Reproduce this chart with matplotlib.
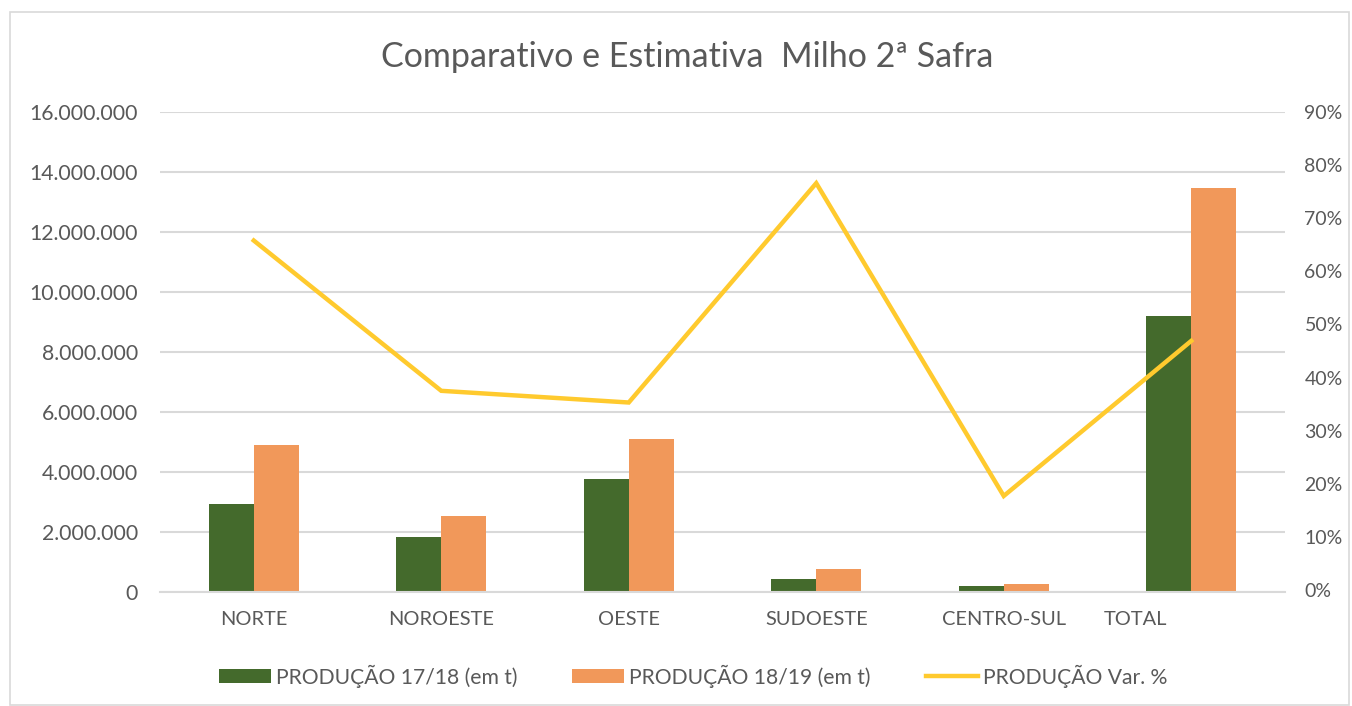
import matplotlib.pyplot as plt
import matplotlib.transforms as mtransforms
from matplotlib.patches import Rectangle
from matplotlib.ticker import FuncFormatter, MultipleLocator
import numpy as np

# ------------------------------------------------------------
# DADOS
# ------------------------------------------------------------
regioes = ["NORTE", "NOROESTE", "OESTE", "SUDOESTE", "CENTRO-SUL", "TOTAL"]
prod_1718 = [2950000, 1840000, 3770000, 450000, 210000, 9200000]
prod_1819 = [4900000, 2530000, 5100000, 770000, 260000, 13470000]
var_pct = [0.658, 0.375, 0.353, 0.766, 0.177, 0.469]

VERDE = "#446a2c"
LARANJA = "#f1985a"
AMARELO = "#ffca2e"
CINZA_TXT = "#595959"
CINZA_GRID = "#d9d9d9"

plt.rcParams["font.family"] = ["Lato", "DejaVu Sans"]

fig = plt.figure(figsize=(13.52, 7.06), dpi=100)
ax = fig.add_axes([160 / 1352, 1 - 592 / 706, 1125 / 1352, 480 / 706])

x = np.arange(len(regioes))
w = 0.24
ax.bar(x - w / 2, prod_1718, w, color=VERDE, label="PRODUÇÃO 17/18 (em t)", zorder=2)
ax.bar(x + w / 2, prod_1819, w, color=LARANJA, label="PRODUÇÃO 18/19 (em t)", zorder=2)

ax.set_xlim(-0.5, len(regioes) - 0.5)
ax.set_ylim(0, 16000000)
ax.yaxis.set_major_locator(MultipleLocator(2000000))
ax.yaxis.set_major_formatter(FuncFormatter(lambda v, p: f"{int(v):,}".replace(",", ".")))
ax.grid(axis="y", color=CINZA_GRID, lw=1.5, zorder=0)
ax.set_axisbelow(True)
for s in ["top", "right", "left"]:
    ax.spines[s].set_visible(False)
ax.spines["bottom"].set_color(CINZA_GRID)
ax.spines["bottom"].set_linewidth(1.5)
ax.tick_params(length=0, labelcolor=CINZA_TXT)
ax.tick_params(axis="y", pad=16, labelsize=15.3)
ax.tick_params(axis="x", pad=14, labelsize=14.4)
ax.set_xticks(x)
ax.set_xticklabels(regioes)

# rótulo TOTAL deslocado para a esquerda, como no original
lbl = ax.get_xticklabels()[-1]
lbl.set_transform(lbl.get_transform() + mtransforms.ScaledTranslation(-0.56, 0, fig.dpi_scale_trans))

ax2 = ax.twinx()
ax2.plot(x, var_pct, color=AMARELO, lw=3.2, label="PRODUÇÃO Var. %", zorder=3,
         solid_joinstyle="miter")
ax2.set_ylim(-0.0038, 0.9)
ax2.yaxis.set_major_locator(MultipleLocator(0.1))
ax2.yaxis.set_major_formatter(FuncFormatter(lambda v, p: f"{round(v * 100):.0f}%"))
for s in ax2.spines.values():
    s.set_visible(False)
ax2.tick_params(length=0, labelsize=14, labelcolor=CINZA_TXT, pad=14)

fig.text(687 / 1352, 1 - 57 / 706, "Comparativo e Estimativa  Milho 2ª Safra", ha="center", va="center",
         fontsize=24.5, color=CINZA_TXT)

h1, l1 = ax.get_legend_handles_labels()
h2, l2 = ax2.get_legend_handles_labels()
fig.legend(h1 + h2, l1 + l2, loc="center", bbox_to_anchor=(693 / 1352, 1 - 676 / 706), ncol=3,
           frameon=False, fontsize=15.2, labelcolor=CINZA_TXT, handlelength=2.47,
           handleheight=0.67, handletextpad=0.24, columnspacing=2.6)

# moldura do gráfico
fig.patches.append(Rectangle((10 / 1352, 0.002), 1339 / 1352, 1 - 12 / 706 - 0.002,
                             transform=fig.transFigure, fill=False, edgecolor=CINZA_GRID, lw=1.2))

fig.savefig("out.png", dpi=100, facecolor="white")
